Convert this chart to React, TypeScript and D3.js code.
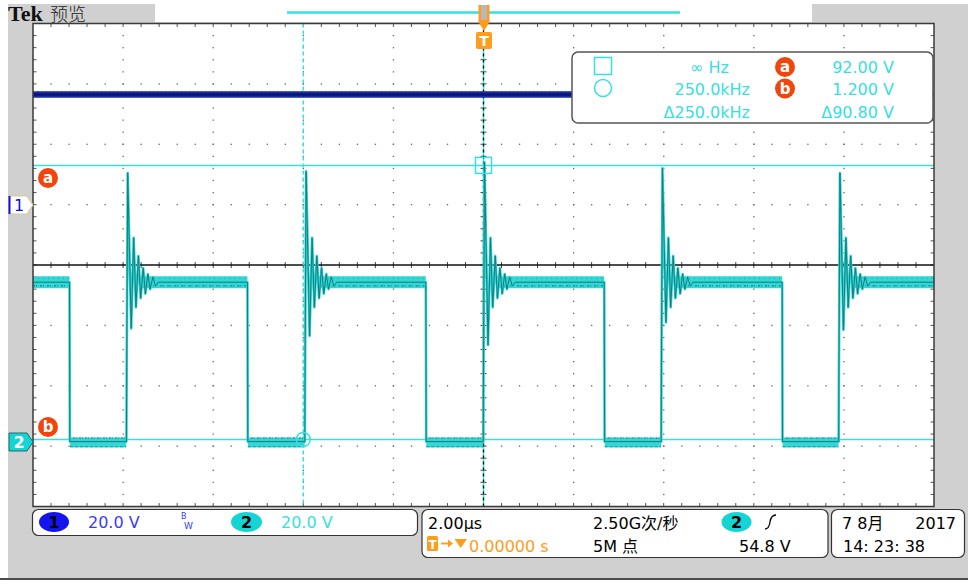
import React from 'react';
import * as d3 from 'd3';

// ---- Scope settings / data ----
const TIME_DOMAIN_US = [-10, 10];
const X_DIVS = 10;
const Y_DIVS = 8;
const VOLTS_PER_DIV = [20.0, 20.0];
const CH_POSITION_DIV = [1.0, -2.95];
const CH1_LEVEL_V = 36.5;
const CH2_FALL_US = [-9.19, -5.24, -1.28, 2.68, 6.63];
const CH2_RISE_US = [-7.92, -3.96, 0.0, 3.95, 7.89];
const CH2_HIGH_V = 53.3;
const CH2_LOW_V = 0.5;
const CH2_KNEE_V = 25;
const CH2_PEAK_V = [89.5, 90.0, 93.0, 91.0, 89.5];
const CH2_TROUGH_V = [38.0, 35.5, 32.5, 40.0, 37.5];
const RING_DT_NS = [22, 100, 155, 205, 260, 310, 365, 415, 470, 520, 580, 640];
const RING_TAIL_V = [68, 45, 62, 48, 58, 49.5, 56, 51, 55, 52];
const RING_SETTLE_NS = 700;
const CURSOR_A_V = 92.0;
const CURSOR_B_V = 1.2;
const CURSOR_T_US = [0.0, -4.0];

const MEAS_LEFT = ['∞ Hz', '250.0kHz', 'Δ250.0kHz'];
const MEAS_RIGHT = ['92.00 V', '1.200 V', 'Δ90.80 V'];

const X0 = 33, X1 = 934, Y0 = 23.5, Y1 = 506.5;
const CYAN = '#36e0e0';
const ORANGE = '#ff9c1a';
const RED = '#f0460e';
const FONT = "'DejaVu Sans', 'Noto Sans CJK SC', sans-serif";

export default function App() {
  const x = d3.scaleLinear().domain(TIME_DOMAIN_US).range([X0, X1]);
  const divY = (Y1 - Y0) / Y_DIVS;
  const cy = (Y0 + Y1) / 2;
  const cx = (X0 + X1) / 2;
  const chY = (ch: number) => {
    const g = cy - CH_POSITION_DIV[ch] * divY;
    return d3.scaleLinear().domain([0, VOLTS_PER_DIV[ch]]).range([g, g - divY]);
  };
  const y1 = chY(0);
  const y2 = chY(1);

  const pts: [number, number][] = [[TIME_DOMAIN_US[0], CH2_HIGH_V]];
  CH2_RISE_US.forEach((r, i) => {
    const f = CH2_FALL_US[i];
    pts.push([f, CH2_HIGH_V], [f + 0.008, CH2_LOW_V]);
    pts.push([r - 0.006, CH2_LOW_V], [r, CH2_KNEE_V]);
    const ring = [CH2_PEAK_V[i], CH2_TROUGH_V[i], ...RING_TAIL_V];
    ring.forEach((v, k) => pts.push([r + RING_DT_NS[k] / 1000, v]));
    pts.push([r + RING_SETTLE_NS / 1000, CH2_HIGH_V]);
  });
  pts.push([TIME_DOMAIN_US[1], CH2_HIGH_V]);
  const line = d3.line<[number, number]>().x(d => x(d[0])).y(d => y2(d[1]));
  const ch2Path = line(pts) || '';

  const highSegs: [number, number][] = [[TIME_DOMAIN_US[0], CH2_FALL_US[0]]];
  CH2_RISE_US.forEach((r, i) => {
    const nf = i + 1 < CH2_FALL_US.length ? CH2_FALL_US[i + 1] : TIME_DOMAIN_US[1];
    highSegs.push([r + 0.28, nf]);
  });
  const lowSegs: [number, number][] = CH2_FALL_US.map((f, i) => [f + 0.01, CH2_RISE_US[i] - 0.01]);

  const minorX = d3.range(0, X_DIVS * 5 + 1).map(i => X0 + (i * (X1 - X0)) / (X_DIVS * 5));
  const minorY = d3.range(0, Y_DIVS * 5 + 1).map(j => Y0 + (j * (Y1 - Y0)) / (Y_DIVS * 5));
  const majorX = d3.range(1, X_DIVS).filter(k => k !== X_DIVS / 2).map(k => X0 + (k * (X1 - X0)) / X_DIVS);
  const majorY = d3.range(1, Y_DIVS).filter(k => k !== Y_DIVS / 2).map(k => Y0 + k * divY);

  const dots: JSX.Element[] = [];
  majorY.forEach((yy, a) => minorX.slice(1, -1).forEach((xx, b) =>
    dots.push(<rect key={`h${a}-${b}`} x={xx - 0.6} y={yy - 0.6} width={1.3} height={1.3} fill="#666" />)));
  majorX.forEach((xx, a) => minorY.slice(1, -1).forEach((yy, b) =>
    dots.push(<rect key={`v${a}-${b}`} x={xx - 0.6} y={yy - 0.6} width={1.3} height={1.3} fill="#666" />)));

  const ticks: JSX.Element[] = [];
  minorX.slice(1, -1).forEach((xx, i) => {
    ticks.push(<line key={`tt${i}`} x1={xx} x2={xx} y1={Y0} y2={Y0 + 3.5} stroke="#555" strokeWidth={1} />);
    ticks.push(<line key={`tb${i}`} x1={xx} x2={xx} y1={Y1 - 3.5} y2={Y1} stroke="#555" strokeWidth={1} />);
    ticks.push(<line key={`tc${i}`} x1={xx} x2={xx} y1={cy - 3} y2={cy + 3} stroke="#444" strokeWidth={1} />);
  });
  minorY.slice(1, -1).forEach((yy, i) => {
    ticks.push(<line key={`tl${i}`} x1={X0} x2={X0 + 3.5} y1={yy} y2={yy} stroke="#555" strokeWidth={1} />);
    ticks.push(<line key={`tr${i}`} x1={X1 - 3.5} x2={X1} y1={yy} y2={yy} stroke="#555" strokeWidth={1} />);
    ticks.push(<line key={`tv${i}`} x1={cx - 3} x2={cx + 3} y1={yy} y2={yy} stroke="#444" strokeWidth={1} />);
  });

  const cursorAy = y2(CURSOR_A_V);
  const cursorBy = y2(CURSOR_B_V);
  const c1x = x(CURSOR_T_US[0]);
  const c2x = x(CURSOR_T_US[1]);
  const ch1y = y1(CH1_LEVEL_V);
  const hiY = y2(CH2_HIGH_V);
  const loY = y2(CH2_LOW_V);

  const txt = { fontFamily: FONT, fontSize: 16 } as const;

  return (
    <svg width={968} height={586} style={{ position: 'absolute', left: 0, top: 0 }} xmlns="http://www.w3.org/2000/svg">
      <defs>
        <clipPath id="plot"><rect x={X0} y={Y0} width={X1 - X0} height={Y1 - Y0} /></clipPath>
      </defs>
      <rect x={0} y={0} width={968} height={586} fill="#fff" />
      <rect x={8} y={4} width={960} height={574} fill="#d0d0d0" />
      <line x1={0} x2={968} y1={579} y2={579} stroke="#111" strokeWidth={1.5} />

      {/* header */}
      <text x={8} y={21} fontFamily="'Liberation Serif', serif" fontWeight="bold" fontSize={22} fill="#111">Tek</text>
      <text x={50} y={21} fontFamily="'Noto Sans CJK SC'" fontWeight={300} fontSize={18} fill="#222">预览</text>
      <rect x={155} y={4} width={657} height={18} fill="#fff" />
      <line x1={287} x2={680} y1={12.5} y2={12.5} stroke={CYAN} strokeWidth={2.5} />

      {/* plot */}
      <rect x={X0} y={Y0} width={X1 - X0} height={Y1 - Y0} fill="#fff" />
      {dots}
      {ticks}
      <line x1={X0} x2={X1} y1={cy} y2={cy} stroke="#111" strokeWidth={1.6} />

      <g clipPath="url(#plot)">
        {/* cursors */}
        <line x1={X0} x2={X1} y1={cursorAy} y2={cursorAy} stroke={CYAN} strokeWidth={1.5} />
        <line x1={X0} x2={X1} y1={cursorBy} y2={cursorBy} stroke={CYAN} strokeWidth={1.5} />
        <line x1={c2x} x2={c2x} y1={Y0} y2={Y1} stroke={CYAN} strokeWidth={1.5} strokeDasharray="4 3" />
        <line x1={c1x} x2={c1x} y1={49} y2={Y1} stroke={CYAN} strokeWidth={1.5} />
        <line x1={cx} x2={cx} y1={Y0} y2={Y1} stroke="#111" strokeWidth={1.3} strokeDasharray="3 3" />

        {/* ch1 */}
        <line x1={X0} x2={X1} y1={ch1y} y2={ch1y} stroke="#1b2d9c" strokeWidth={6.5} />
        <line x1={X0} x2={X1} y1={ch1y} y2={ch1y} stroke="#0a1478" strokeWidth={2.5} />
        <line x1={X0} x2={X1} y1={ch1y - 3} y2={ch1y - 3} stroke="#3a4cc0" strokeWidth={1} strokeDasharray="1 3 2 2" />

        {/* ch2 bands */}
        {highSegs.map((s, i) => (
          <g key={`hs${i}`}>
            <line x1={x(s[0])} x2={x(s[1])} y1={hiY} y2={hiY} stroke="#34d6d6" strokeWidth={12} />
            <line x1={x(s[0])} x2={x(s[1])} y1={hiY + 3.5} y2={hiY + 3.5} stroke="#179595" strokeWidth={1.5} strokeDasharray="2 1 1 3" />
            <line x1={x(s[0])} x2={x(s[1])} y1={hiY - 4} y2={hiY - 4} stroke="#1aa0a0" strokeWidth={1} strokeDasharray="1 4" />
          </g>
        ))}
        {lowSegs.map((s, i) => (
          <g key={`ls${i}`}>
            <line x1={x(s[0])} x2={x(s[1])} y1={loY + 1} y2={loY + 1} stroke="#34d6d6" strokeWidth={10} />
            <line x1={x(s[0])} x2={x(s[1])} y1={loY - 3.5} y2={loY - 3.5} stroke="#179595" strokeWidth={1.2} strokeDasharray="1 2 2 1" />
            <line x1={x(s[0])} x2={x(s[1])} y1={loY + 5} y2={loY + 5} stroke="#1aa0a0" strokeWidth={1} strokeDasharray="3 2" />
          </g>
        ))}
        <path d={ch2Path} fill="none" stroke="#30d4d4" strokeWidth={2.6} strokeLinejoin="round" />
        <path d={ch2Path} fill="none" stroke="#127e7e" strokeWidth={1} strokeLinejoin="round" />

        {/* cursor intersections */}
        <rect x={c1x - 8} y={cursorAy - 8} width={16} height={16} fill="none" stroke={CYAN} strokeWidth={1.5} />
        <circle cx={c2x} cy={cursorBy} r={7} fill="none" stroke={CYAN} strokeWidth={1.5} />
      </g>
      <rect x={X0} y={Y0} width={X1 - X0} height={Y1 - Y0} fill="none" stroke="#3a3a3a" strokeWidth={1.5} />

      {/* trigger marker */}
      <rect x={478.5} y={5} width={11} height={17} fill={ORANGE} />
      <rect x={481} y={5} width={6} height={15} fill="#b8b8b8" />
      <path d="M478.5,22 L489.5,22 L484,31 Z" fill={ORANGE} />
      <rect x={476} y={32} width={16} height={17} rx={2} fill={ORANGE} />
      <text x={484} y={46} textAnchor="middle" fontFamily={FONT} fontWeight="bold" fontSize={14} fill="#fff">T</text>

      {/* channel markers */}
      <polygon points="9,196 27,196 33,205 27,214 9,214" fill="#fff" stroke="#d4cc9c" strokeWidth={1.2} />
      <line x1={9.5} x2={9.5} y1={196} y2={214} stroke="#1010e0" strokeWidth={2} />
      <text x={19} y={211} textAnchor="middle" {...txt} fill="#1010e0">1</text>
      <polygon points="9,433 27,433 33,442 27,451 9,451" fill="#14d4d4" stroke="#2a6868" strokeWidth={1} />
      <text x={19} y={448} textAnchor="middle" {...txt} fontWeight="bold" fill="#fff">2</text>
      <circle cx={48} cy={178} r={10} fill={RED} />
      <text x={48} y={183} textAnchor="middle" fontFamily={FONT} fontWeight="bold" fontSize={15} fill="#fff">a</text>
      <circle cx={48} cy={427} r={10} fill={RED} />
      <text x={48} y={432} textAnchor="middle" fontFamily={FONT} fontWeight="bold" fontSize={15} fill="#fff">b</text>

      {/* measurement box */}
      <rect x={572} y={52} width={361} height={71} rx={6} fill="#fff" stroke="#555" strokeWidth={1.5} />
      <rect x={594.5} y={57.5} width={17} height={17} fill="none" stroke={CYAN} strokeWidth={1.5} />
      <circle cx={603} cy={88} r={8.5} fill="none" stroke={CYAN} strokeWidth={1.5} />
      <text x={690} y={73} {...txt} fill={CYAN}>{MEAS_LEFT[0]}</text>
      <text x={750} y={95} textAnchor="end" {...txt} fill={CYAN}>{MEAS_LEFT[1]}</text>
      <text x={750} y={118} textAnchor="end" {...txt} fill={CYAN}>{MEAS_LEFT[2]}</text>
      <circle cx={785} cy={67} r={10} fill={RED} />
      <text x={785} y={72} textAnchor="middle" fontFamily={FONT} fontWeight="bold" fontSize={15} fill="#fff">a</text>
      <circle cx={785} cy={88.5} r={10} fill={RED} />
      <text x={785} y={93.5} textAnchor="middle" fontFamily={FONT} fontWeight="bold" fontSize={15} fill="#fff">b</text>
      <text x={894} y={73} textAnchor="end" {...txt} fill={CYAN}>{MEAS_RIGHT[0]}</text>
      <text x={894} y={95} textAnchor="end" {...txt} fill={CYAN}>{MEAS_RIGHT[1]}</text>
      <text x={894} y={118} textAnchor="end" {...txt} fill={CYAN}>{MEAS_RIGHT[2]}</text>

      {/* bottom status bar */}
      <rect x={32.5} y={509.5} width={385} height={26} rx={6} fill="#fff" stroke="#333" strokeWidth={1.2} />
      <ellipse cx={54} cy={522} rx={15} ry={10} fill="#1414f0" />
      <text x={54} y={528} textAnchor="middle" {...txt} fontWeight="bold" fill="#000">1</text>
      <text x={88} y={528} {...txt} fill="#3a3aff">{`${VOLTS_PER_DIV[0].toFixed(1)} V`}</text>
      <text x={181} y={519} fontFamily={FONT} fontSize={8} fill="#3a3aff">B</text>
      <text x={184} y={529} fontFamily={FONT} fontSize={9} fill="#3a3aff">W</text>
      <ellipse cx={246.5} cy={522} rx={15.5} ry={10} fill="#14d4d4" />
      <text x={246.5} y={528} textAnchor="middle" {...txt} fontWeight="bold" fill="#000">2</text>
      <text x={281} y={528} {...txt} fill={CYAN}>{`${VOLTS_PER_DIV[1].toFixed(1)} V`}</text>

      <rect x={422} y={509.5} width={406} height={48} rx={6} fill="#fff" stroke="#333" strokeWidth={1.2} />
      <text x={428} y={529} {...txt} fill="#000">2.00µs</text>
      <text x={593} y={529} {...txt} fill="#000">2.50G次/秒</text>
      <ellipse cx={736.5} cy={522} rx={15} ry={10} fill="#14d4d4" />
      <text x={736.5} y={528} textAnchor="middle" {...txt} fontWeight="bold" fill="#000">2</text>
      <path d="M765,529 Q769,529 770,522 Q771,515 776,515" fill="none" stroke="#000" strokeWidth={1.3} />
      <rect x={427} y={536} width={11} height={15} rx={1.5} fill={ORANGE} />
      <text x={432.5} y={549} textAnchor="middle" fontFamily={FONT} fontWeight="bold" fontSize={12} fill="#fff">T</text>
      <path d="M441,543.5 L450,543.5" stroke={ORANGE} strokeWidth={1.8} />
      <path d="M448,539.5 L453,543.5 L448,547.5 Z" fill={ORANGE} />
      <path d="M454.5,539 L467,539 L460.75,548 Z" fill={ORANGE} />
      <text x={469} y={552} {...txt} fill={ORANGE}>0.00000 s</text>
      <text x={593} y={552} {...txt} fill="#000">5M 点</text>
      <text x={739} y={552} {...txt} fill="#000">54.8 V</text>

      <rect x={831.5} y={509.5} width={133} height={48} rx={6} fill="#fff" stroke="#333" strokeWidth={1.2} />
      <text x={842} y={529} {...txt} fill="#000">7 8月</text>
      <text x={956} y={529} textAnchor="end" {...txt} fill="#000">2017</text>
      <text x={843} y={552} {...txt} fill="#000">14: 23: 38</text>
    </svg>
  );
}
